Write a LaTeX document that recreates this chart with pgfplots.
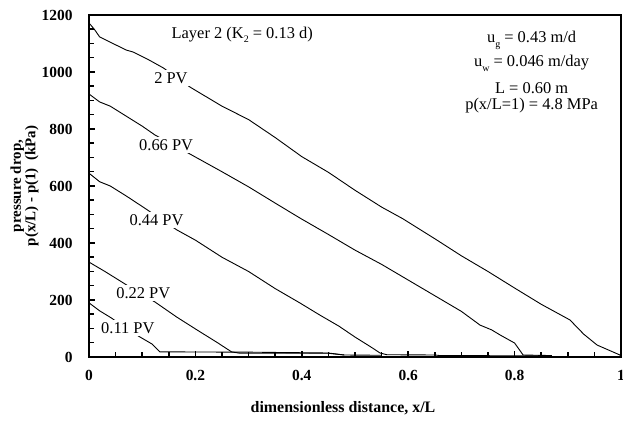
\documentclass[border=0pt]{standalone}
\usepackage{fontspec}
\setmainfont{Liberation Serif}
\usepackage{pgfplots}
\pgfplotsset{compat=1.18}

% low, small subscript in the text font
\newcommand{\lsub}[1]{\raisebox{-0.55ex}{\fontsize{10}{11}\selectfont #1}}

\begin{document}
\begin{tikzpicture}
\useasboundingbox (0,0) rectangle (623bp,422bp);
\begin{axis}[
  at={(89bp,65bp)}, anchor=south west,
  scale only axis, width=532bp, height=342bp,
  xmin=0, xmax=1, ymin=0, ymax=1200,
  xtick={0,0.2,...,1}, ytick={0,200,...,1200},
  minor x tick num=3, minor y tick num=3,
  tick align=inside, xtick pos=bottom, ytick pos=left,
  major tick length=6bp, minor tick length=5bp,
  tick style={black, line width=1.5bp},
  axis line style={black, line width=1.6bp},
  axis on top,
  scaled ticks=false,
  /pgf/number format/assume math mode=true,
  /pgf/number format/1000 sep={},
  ticklabel style={font=\fontsize{15.5}{17}\selectfont\bfseries},
  xticklabel style={yshift=-10bp},
  yticklabel style={xshift=-13bp},
  clip=false,
]
% 2 PV
\addplot[black, line width=0.9bp] coordinates {(0,1172) (0.01,1150) (0.02,1123) (0.045,1100) (0.07,1077)
  (0.083,1070) (0.11,1045) (0.14,1014) (0.19,947) (0.25,880) (0.30,833)
  (0.35,770) (0.40,703) (0.45,648) (0.50,585) (0.55,526) (0.59,485)
  (0.65,415) (0.70,355) (0.75,300) (0.80,242) (0.85,185) (0.904,130)
  (0.93,80) (0.955,42) (0.998,7) (1,0)};
% 0.66 PV
\addplot[black, line width=0.9bp] coordinates {(0,923) (0.02,895) (0.04,880) (0.07,845) (0.10,810)
  (0.124,779) (0.19,712) (0.25,650) (0.30,597) (0.35,540) (0.397,487)
  (0.45,430) (0.50,375) (0.55,325) (0.60,270) (0.65,215) (0.70,160)
  (0.735,112) (0.757,95) (0.773,77) (0.80,49) (0.816,7) (0.87,5)};
% 0.44 PV
\addplot[black, line width=0.9bp] coordinates {(0,645) (0.02,615) (0.04,600) (0.07,565) (0.105,522)
  (0.165,446) (0.20,410) (0.25,350) (0.30,300) (0.35,240) (0.397,189)
  (0.434,147) (0.47,108) (0.50,70) (0.53,35) (0.547,14) (0.56,8)
  (0.65,7) (0.66,5) (0.87,4)};
% 0.22 PV
\addplot[black, line width=0.9bp] coordinates {(0,333) (0.03,300) (0.061,264) (0.09,230) (0.124,193)
  (0.165,140) (0.203,95) (0.24,52) (0.268,18) (0.284,13) (0.45,13)
  (0.48,7) (0.55,6)};
% 0.11 PV
\addplot[black, line width=0.9bp] coordinates {(0,190) (0.02,162) (0.042,137) (0.07,100) (0.096,70)
  (0.118,46) (0.133,18) (0.30,17) (0.45,14) (0.48,7)};

% curve labels
\begin{scope}[every node/.style={fill=white, inner sep=2.5bp, anchor=base,
    font=\fontsize{16.5}{18}\selectfont}]
  \node at (axis cs:0.154,961) {2 PV};
  \node at (axis cs:0.145,726) {0.66 PV};
  \node at (axis cs:0.127,463) {0.44 PV};
  \node at (axis cs:0.102,207) {0.22 PV};
  \node at (axis cs:0.073,84) {0.11 PV};
\end{scope}

% annotations
\begin{scope}[every node/.style={inner sep=0pt, anchor=base,
    font=\fontsize{16.5}{18}\selectfont}]
  \node at (axis cs:0.288,1119) {Layer 2 (K\lsub{2} = 0.13 d)};
  \node at (axis cs:0.832,1102) {u\lsub{g} = 0.43 m/d};
  \node at (axis cs:0.832,1018) {u\lsub{w} = 0.046 m/day};
  \node at (axis cs:0.832,923) {L = 0.60 m};
  \node at (axis cs:0.832,867) {p(x/L=1) = 4.8 MPa};
\end{scope}
\end{axis}

% axis titles
\node[rotate=90, align=center, font=\fontsize{15}{13.5}\selectfont\bfseries]
  at (24.5bp,236bp) {pressure drop,\\p(x/L) - p(1)~~(kPa)};
\node[font=\fontsize{16}{18}\selectfont\bfseries] at (343bp,14bp)
  {dimensionless distance, x/L};
\end{tikzpicture}
\end{document}
